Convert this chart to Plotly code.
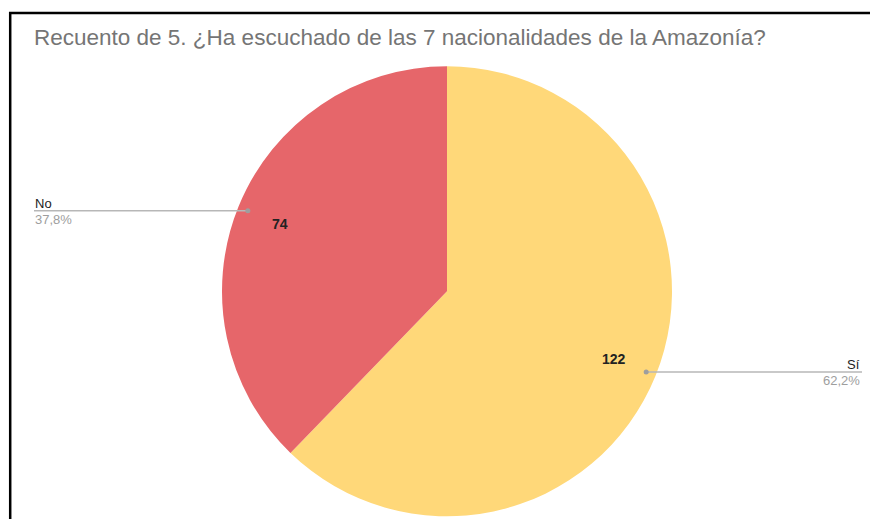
import math
import plotly.graph_objects as go

# ---- data ----
labels = ["Sí", "No"]
values = [122, 74]
pct_text = ["62,2%", "37,8%"]
colors = ["#FFD879", "#E6666A"]
title_text = "Recuento de 5. ¿Ha escuchado de las 7 nacionalidades de la Amazonía?"

W, H = 870, 519
# pie geometry (pixels)
cx, cy, R = 447, 291.3, 225

def px(x):
    return x / W

def py(y):
    return 1 - y / H

FONT = "Liberation Sans, Arial"

fig = go.Figure()
fig.add_trace(go.Pie(
    labels=labels, values=values, sort=False, direction="clockwise", rotation=0,
    marker=dict(colors=colors, line=dict(width=0)),
    textinfo="none", hoverinfo="label+value+percent", showlegend=False,
    domain=dict(x=[px(cx - R), px(cx + R)], y=[py(cy + R), py(cy - R)]),
))

annotations = []
shapes = []
total = sum(values)
start = 0.0
for i, (lab, v) in enumerate(zip(labels, values)):
    frac = v / total
    mid = (start + frac / 2) * 2 * math.pi  # clockwise from 12 o'clock
    start += frac
    sx, sy = math.sin(mid), -math.cos(mid)
    # value label inside
    vx, vy = cx + 0.80 * R * sx, cy + 0.80 * R * sy
    annotations.append(dict(x=px(vx), y=py(vy), xref="paper", yref="paper", text="<b>%d</b>" % v,
                            showarrow=False, font=dict(size=14, color="#222222", family=FONT),
                            xanchor="center", yanchor="middle"))
    # leader line
    dx, dy = cx + 0.955 * R * sx, cy + 0.955 * R * sy
    if sx < 0:
        ex, anchor, tx = 34, "left", 33
    else:
        ex, anchor, tx = 862, "right", 862
    shapes.append(dict(type="line", xref="paper", yref="paper", x0=px(dx), y0=py(dy),
                       x1=px(ex), y1=py(dy), line=dict(color="#B7B7B7", width=1.5)))
    shapes.append(dict(type="circle", xref="paper", yref="paper", x0=px(dx - 2.5), x1=px(dx + 2.5),
                       y0=py(dy - 2.5), y1=py(dy + 2.5), fillcolor="#9E9E9E",
                       line=dict(color="#9E9E9E", width=0)))
    annotations.append(dict(x=px(tx), y=py(dy - 7.5), xref="paper", yref="paper", text=lab,
                            showarrow=False, font=dict(size=13, color="#222222", family=FONT),
                            xanchor=anchor, yanchor="middle"))
    annotations.append(dict(x=px(tx), y=py(dy + 8.5), xref="paper", yref="paper", text=pct_text[i],
                            showarrow=False, font=dict(size=13, color="#9E9E9E", family=FONT),
                            xanchor=anchor, yanchor="middle"))

# frame lines
shapes.append(dict(type="line", xref="paper", yref="paper", x0=px(9), x1=1, y0=py(13), y1=py(13),
                   line=dict(color="black", width=2.5)))
shapes.append(dict(type="line", xref="paper", yref="paper", x0=px(10.2), x1=px(10.2), y0=py(12), y1=0,
                   line=dict(color="black", width=2.5)))

fig.update_layout(
    width=W, height=H,
    margin=dict(l=0, r=0, t=0, b=0),
    paper_bgcolor="white", plot_bgcolor="white",
    title=dict(text=title_text, x=px(34), xanchor="left", y=py(37), yanchor="middle",
               font=dict(size=22.5, color="#757575", family=FONT)),
    annotations=annotations, shapes=shapes,
)

fig.write_html("out.html", config={"displayModeBar": False},
               post_script="document.body.style.margin='0';document.body.style.overflow='hidden';")
